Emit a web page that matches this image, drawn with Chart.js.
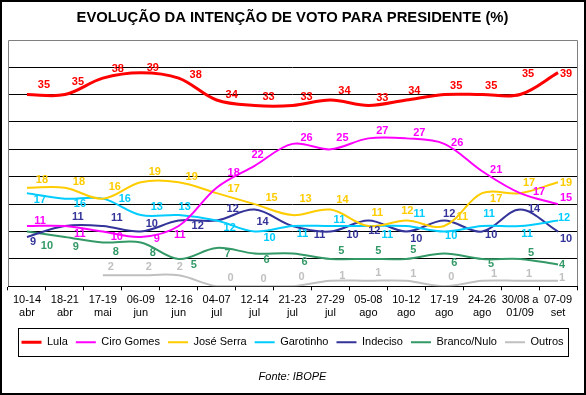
<!DOCTYPE html>
<html>
<head>
<meta charset="utf-8">
<script src="https://cdn.jsdelivr.net/npm/chart.js@4"></script>
<style>
	html, body { margin: 0; padding: 0; background: #fff; }
	#wrap { width: 586px; height: 395px; }
</style>
</head>
<body>
<div id="wrap"><canvas id="chart" width="586" height="395"></canvas></div>
<script>
// Poll dates (two lines per tick)
const pollDates = [
	['10-14', 'abr'], ['18-21', 'abr'], ['17-19', 'mai'], ['06-09', 'jun'], ['12-16', 'jun'],
	['04-07', 'jul'], ['12-14', 'jul'], ['21-23', 'jul'], ['27-29', 'jul'], ['05-08', 'ago'],
	['10-12', 'ago'], ['17-19', 'ago'], ['24-26', 'ago'], ['30/08 a', '01/09'], ['07-09', 'set']
];

const lula      = [35, 35, 38, 39, 38, 34, 33, 33, 34, 33, 34, 35, 35, 35, 39];
const ciroGomes = [11, 11, 10, 9, 11, 18, 22, 26, 25, 27, 27, 26, 21, 17, 15];
const joseSerra = [18, 18, 16, 19, 19, 17, 15, 13, 14, 11, 12, 11, 17, 17, 19];
const garotinho = [17, 16, 16, 13, 13, 12, 10, 11, 11, 11, 11, 10, 11, 11, 12];
const indeciso  = [9, 11, 11, 10, 12, 12, 14, 11, 10, 12, 10, 12, 10, 14, 10];
const brancoNulo = [10, 9, 8, 8, 5, 7, 6, 6, 5, 5, 5, 6, 5, 5, 4];
const outros    = [null, null, 2, 2, 2, 0, 0, 0, 1, 1, 1, 0, 1, 1, 1];

// where each value label sits relative to its point [dx, dy]
const labelNudge = {
	'Lula':        [[17,-10],[13,-13],[15,-9],[12,-5],[17,-3],[15,-5],[14,-9],[14,-9],[14,-9],[14,-8],[8,-9],[12,-9],[9,-9],[8,-21],[8,1]],
	'Ciro Gomes':  [[13,-5],[15,8],[14,5],[16,2],[1,9],[17,-15],[3,-11],[14,-6],[12,-11],[14,-7],[13,-5],[13,-1],[14,-1],[19,-1],[8,-6]],
	'José Serra':  [[15,-8],[14,-6],[12,-12],[14,-10],[13,-5],[17,-4],[17,-6],[13,-16],[12,-10],[9,-13],[1,-10],[18,-9],[14,6],[9,-10],[8,1]],
	'Garotinho':   [[13,7],[15,5],[22,0],[16,-8],[6,-8],[13,7],[15,6],[10,8],[9,-6],[19,9],[13,-12],[7,4],[7,-12],[7,8],[6,-3]],
	'Indeciso':    [[6,5],[13,-9],[14,-8],[11,-8],[19,5],[16,-12],[8,12],[27,9],[22,3],[6,10],[10,7],[5,-7],[9,3],[14,-1],[8,7]],
	'Branco/Nulo': [[20,14],[11,10],[13,9],[12,10],[15,6],[11,6],[12,7],[12,9],[11,-8],[10,-8],[7,-9],[10,10],[9,5],[11,-6],[4,1]],
	'Outros':      [[0,0],[0,0],[8,-8],[8,-8],[1,-8],[14,-8],[9,-7],[9,-9],[12,-5],[10,-8],[7,-7],[7,-9],[12,-7],[9,-7],[4,-3]]
};

const FONT = '"Liberation Sans", Arial, sans-serif';

function series(label, data, color, width) {
	return {
		label: label,
		data: data,
		borderColor: color,
		backgroundColor: color,
		borderWidth: width || 2,
		pointRadius: 0,
		pointHoverRadius: 0,
		tension: 0.35,
		fill: false
	};
}

// frame, plot border, legend box
const framePlugin = {
	id: 'frame',
	beforeDraw(chart) {
		const ctx = chart.ctx;
		ctx.save();
		ctx.fillStyle = '#fff';
		ctx.fillRect(0, 0, chart.width, chart.height);
		ctx.restore();
	},
	beforeDatasetsDraw(chart) {
		const ctx = chart.ctx;
		const a = chart.chartArea;
		ctx.save();
		ctx.strokeStyle = '#808080';
		ctx.lineWidth = 1;
		ctx.beginPath();
		ctx.moveTo(Math.round(a.left) + 0.5, Math.round(a.bottom));
		ctx.lineTo(Math.round(a.left) + 0.5, Math.round(a.top) + 0.5);
		ctx.lineTo(Math.round(a.right) + 0.5, Math.round(a.top) + 0.5);
		ctx.lineTo(Math.round(a.right) + 0.5, Math.round(a.bottom));
		ctx.stroke();
		ctx.restore();
	},
	afterDraw(chart) {
		const ctx = chart.ctx;
		ctx.save();
		ctx.strokeStyle = '#000';
		ctx.lineWidth = 2;
		ctx.strokeRect(1, 1, chart.width - 2, chart.height - 2);

		const boxes = chart.legend.legendHitBoxes;
		if (boxes && boxes.length) {
			const left = Math.min(...boxes.map(b => b.left)) - 4;
			const right = Math.max(...boxes.map(b => b.left + b.width)) + 4;
			const mid = boxes[0].top + boxes[0].height / 2;
			ctx.lineWidth = 1;
			ctx.strokeRect(Math.round(left) + 0.5, Math.round(mid - 14) + 0.5, Math.round(right - left), 28);
		}
		ctx.restore();
	}
};

// value labels next to each point
const valueLabelPlugin = {
	id: 'valueLabels',
	afterDatasetsDraw(chart) {
		const ctx = chart.ctx;
		ctx.save();
		ctx.font = 'bold 11px ' + FONT;
		ctx.textAlign = 'center';
		ctx.textBaseline = 'middle';
		chart.data.datasets.forEach((ds, i) => {
			const meta = chart.getDatasetMeta(i);
			const nudge = labelNudge[ds.label] || [];
			ctx.fillStyle = ds.borderColor;
			meta.data.forEach((pt, j) => {
				const v = ds.data[j];
				if (v === null || v === undefined) return;
				const n = nudge[j] || [12, -8];
				ctx.fillText(String(v), pt.x + n[0], pt.y + n[1]);
			});
		});
		ctx.restore();
	}
};

const ctx = document.getElementById('chart').getContext('2d');
new Chart(ctx, {
	type: 'line',
	data: {
		labels: pollDates,
		datasets: [
			series('Lula', lula, '#FF0000', 3),
			series('Ciro Gomes', ciroGomes, '#FF00FF'),
			series('José Serra', joseSerra, '#FFCC00'),
			series('Garotinho', garotinho, '#00CCFF'),
			series('Indeciso', indeciso, '#333399'),
			series('Branco/Nulo', brancoNulo, '#339966'),
			series('Outros', outros, '#C0C0C0')
		]
	},
	options: {
		responsive: false,
		animation: false,
		devicePixelRatio: 1,
		layout: { padding: { left: 8, right: 9, top: 0, bottom: 0 } },
		plugins: {
			title: {
				display: true,
				text: 'EVOLUÇÃO DA INTENÇÃO DE VOTO PARA PRESIDENTE (%)',
				color: '#000',
				font: { family: FONT, size: 14.8, weight: 'bold', lineHeight: 1.2 },
				padding: { top: 9, bottom: 13 }
			},
			legend: {
				display: true,
				position: 'bottom',
				labels: {
					color: '#000',
					font: { family: FONT, size: 11 },
					usePointStyle: true,
					pointStyle: 'line',
					pointStyleWidth: 20,
					padding: 8
				}
			},
			subtitle: {
				display: true,
				position: 'bottom',
				text: 'Fonte: IBOPE',
				color: '#000',
				font: { family: FONT, size: 11, style: 'italic', weight: 'normal', lineHeight: 1.2 },
				padding: { top: 13, bottom: 11 }
			},
			tooltip: { enabled: false }
		},
		scales: {
			x: {
				offset: true,
				grid: { offset: true, drawOnChartArea: false, drawTicks: true, tickLength: 4, color: '#000' },
				border: { display: true, color: '#000' },
				ticks: {
					color: '#000',
					font: { family: FONT, size: 11, lineHeight: 1.2 },
					maxRotation: 0,
					autoSkip: false,
					padding: 3
				},
				afterFit: scale => { scale.height = 42.5; }
			},
			y: {
				min: 0,
				max: 45,
				grid: {
					drawTicks: false,
					color: c => (c.tick && c.tick.value === 45) ? 'rgba(0,0,0,0)' : '#000'
				},
				border: { display: false },
				ticks: { display: false, stepSize: 5 }
			}
		}
	},
	plugins: [framePlugin, valueLabelPlugin]
});
</script>
</body>
</html>
